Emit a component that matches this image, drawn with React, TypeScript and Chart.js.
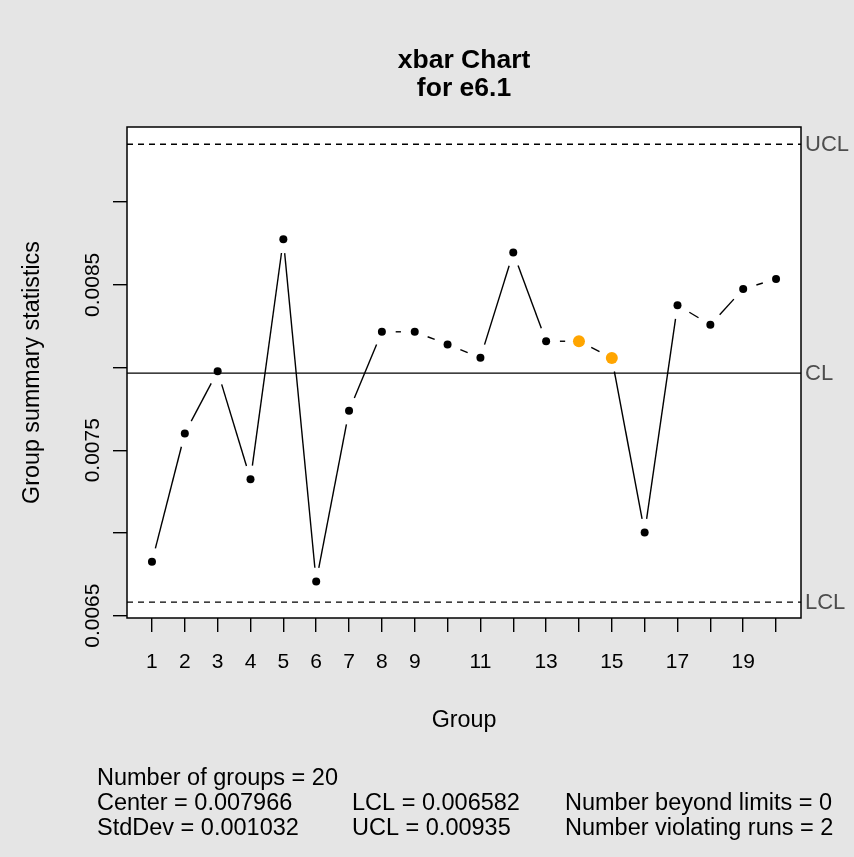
import React, { useEffect, useRef } from 'react';
import { Chart, registerables } from 'chart.js';

Chart.register(...registerables);

// ---- data ----
const groups = [1, 2, 3, 4, 5, 6, 7, 8, 9, 10, 11, 12, 13, 14, 15, 16, 17, 18, 19, 20];
const groupMeans = [
  0.006826, 0.007602, 0.007978, 0.007325, 0.008775, 0.006707, 0.007739, 0.008216, 0.008216, 0.00814,
  0.008059, 0.008695, 0.008159, 0.008159, 0.008058, 0.007003, 0.008377, 0.008258, 0.008475, 0.008535,
];
const runViolations = [14, 15];
const centerLine = 0.007966;
const lowerLimit = 0.006582;
const upperLimit = 0.00935;
const xRange = [0.24, 20.76];
const yRange = [0.006486, 0.009454];
const xTickLabels = ['1', '2', '3', '4', '5', '6', '7', '8', '9', '11', '13', '15', '17', '19'];
const yTickLabels = ['0.0065', '0.0075', '0.0085'];
const titleLines = ['xbar Chart', 'for e6.1'];
const xTitle = 'Group';
const yTitle = 'Group summary statistics';
const limitLabels = ['UCL', 'CL', 'LCL'];
const statsCol1 = ['Number of groups = 20', 'Center = 0.007966', 'StdDev = 0.001032'];
const statsCol2 = ['', 'LCL = 0.006582', 'UCL = 0.00935'];
const statsCol3 = ['', 'Number beyond limits = 0', 'Number violating runs = 2'];

const FONT = '"Liberation Sans", Arial, Helvetica, sans-serif';
const BG = '#e5e5e5';

const qccPlugin = {
  id: 'qccDecor',
  beforeDraw(chart: any) {
    const { ctx, width, height, chartArea: a } = chart;
    ctx.save();
    ctx.fillStyle = BG;
    ctx.fillRect(0, 0, width, height);
    ctx.fillStyle = '#ffffff';
    ctx.fillRect(a.left, a.top, a.right - a.left, a.bottom - a.top);
    ctx.restore();
  },
  beforeDatasetsDraw(chart: any) {
    const { ctx, chartArea: a, scales } = chart;
    const xs = scales.x;
    const ys = scales.y;
    ctx.save();
    ctx.beginPath();
    ctx.rect(a.left, a.top, a.right - a.left, a.bottom - a.top);
    ctx.clip();
    ctx.strokeStyle = '#000';
    ctx.lineWidth = 1.4;
    const hline = (v: number, dash: number[]) => {
      const py = ys.getPixelForValue(v);
      ctx.setLineDash(dash);
      ctx.beginPath();
      ctx.moveTo(a.left, py);
      ctx.lineTo(a.right, py);
      ctx.stroke();
    };
    hline(centerLine, []);
    hline(upperLimit, [6, 5]);
    hline(lowerLimit, [6, 5]);
    ctx.setLineDash([]);
    // connecting segments with gaps around points (type = "b")
    const gap = 13.8;
    for (let i = 0; i < groups.length - 1; i++) {
      const x0 = xs.getPixelForValue(groups[i]);
      const y0 = ys.getPixelForValue(groupMeans[i]);
      const x1 = xs.getPixelForValue(groups[i + 1]);
      const y1 = ys.getPixelForValue(groupMeans[i + 1]);
      const dx = x1 - x0;
      const dy = y1 - y0;
      const d = Math.sqrt(dx * dx + dy * dy);
      if (d <= 2 * gap) continue;
      const ux = dx / d;
      const uy = dy / d;
      ctx.beginPath();
      ctx.moveTo(x0 + ux * gap, y0 + uy * gap);
      ctx.lineTo(x1 - ux * gap, y1 - uy * gap);
      ctx.stroke();
    }
    ctx.restore();
  },
  afterDraw(chart: any) {
    const { ctx, chartArea: a, scales } = chart;
    const ys = scales.y;
    const cx = (a.left + a.right) / 2;
    const cy = (a.top + a.bottom) / 2;
    ctx.save();
    // plot box
    ctx.strokeStyle = '#000';
    ctx.lineWidth = 1.5;
    ctx.strokeRect(a.left, a.top, a.right - a.left, a.bottom - a.top);
    // title
    ctx.fillStyle = '#000';
    ctx.textAlign = 'center';
    ctx.textBaseline = 'middle';
    ctx.font = `bold 26.5px ${FONT}`;
    ctx.fillText(titleLines[0], cx, 61);
    ctx.fillText(titleLines[1], cx, 89);
    // axis titles
    ctx.font = `23.3px ${FONT}`;
    ctx.textBaseline = 'alphabetic';
    ctx.fillText(xTitle, cx, 727);
    ctx.save();
    ctx.translate(33, cy);
    ctx.rotate(-Math.PI / 2);
    ctx.textBaseline = 'middle';
    ctx.fillText(yTitle, 0, 0);
    ctx.restore();
    // limit labels
    ctx.textAlign = 'left';
    ctx.textBaseline = 'middle';
    ctx.font = `22px ${FONT}`;
    ctx.fillStyle = '#4d4d4d';
    const lims = [upperLimit, centerLine, lowerLimit];
    lims.forEach((v, i) => {
      ctx.fillText(limitLabels[i], a.right + 4, ys.getPixelForValue(v) + 1);
    });
    // stats
    ctx.fillStyle = '#000';
    ctx.font = `23.5px ${FONT}`;
    ctx.textBaseline = 'alphabetic';
    const rowsY = [785, 810, 835];
    rowsY.forEach((ry, i) => {
      if (statsCol1[i]) ctx.fillText(statsCol1[i], 97, ry);
      if (statsCol2[i]) ctx.fillText(statsCol2[i], 352, ry);
      if (statsCol3[i]) ctx.fillText(statsCol3[i], 565, ry);
    });
    ctx.restore();
  },
};

export default function App() {
  const canvasRef = useRef<HTMLCanvasElement | null>(null);

  useEffect(() => {
    const canvas = canvasRef.current;
    if (!canvas) return;
    const points = groups.map((g, i) => ({ x: g, y: groupMeans[i] }));
    const radii = groups.map((g) => (runViolations.includes(g) ? 6 : 4));
    const colors = groups.map((g) => (runViolations.includes(g) ? '#FFA500' : '#000000'));
    const chart = new Chart(canvas, {
      type: 'scatter',
      data: {
        datasets: [
          {
            data: points,
            showLine: false,
            pointRadius: radii,
            pointHoverRadius: radii,
            pointBackgroundColor: colors,
            pointBorderColor: colors,
            pointBorderWidth: 0,
          },
        ],
      },
      options: {
        responsive: false,
        animation: false,
        devicePixelRatio: 1,
        events: [],
        layout: { padding: { top: 127, right: 53, bottom: 0, left: 0 } },
        plugins: { legend: { display: false }, tooltip: { enabled: false }, title: { display: false } },
        scales: {
          x: {
            type: 'linear',
            position: 'bottom',
            min: xRange[0],
            max: xRange[1],
            afterFit: (s: any) => {
              s.height = 239;
            },
            border: { display: false },
            grid: { drawOnChartArea: false, drawTicks: true, tickLength: 14, color: '#000', lineWidth: 1.4 },
            ticks: {
              stepSize: 1,
              includeBounds: false,
              autoSkip: false,
              maxRotation: 0,
              minRotation: 0,
              padding: 18,
              color: '#000',
              font: { family: FONT, size: 21 },
              callback: (v: any) => {
                const s = String(Math.round(Number(v)));
                return xTickLabels.includes(s) ? s : '';
              },
            },
          },
          y: {
            type: 'linear',
            position: 'left',
            min: yRange[0],
            max: yRange[1],
            afterFit: (s: any) => {
              s.width = 127;
            },
            border: { display: false },
            grid: { drawOnChartArea: false, drawTicks: true, tickLength: 14, color: '#000', lineWidth: 1.4 },
            ticks: {
              stepSize: 0.0005,
              includeBounds: false,
              autoSkip: false,
              minRotation: 90,
              maxRotation: 90,
              crossAlign: 'center',
              padding: -12,
              color: '#000',
              font: { family: FONT, size: 21 },
              callback: (v: any) => {
                const s = Number(v).toFixed(4);
                return yTickLabels.includes(s) ? s : '';
              },
            },
          },
        },
      },
      plugins: [qccPlugin],
    } as any);
    return () => chart.destroy();
  }, []);

  return (
    <div style={{ position: 'absolute', left: 0, top: 0, width: 854, height: 857, background: BG }}>
      <canvas ref={canvasRef} width={854} height={857} style={{ display: 'block', width: 854, height: 857 }} />
    </div>
  );
}
